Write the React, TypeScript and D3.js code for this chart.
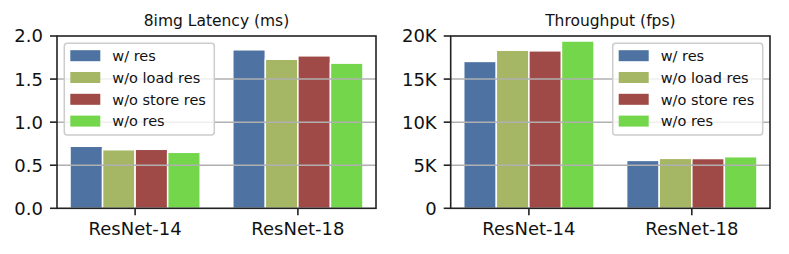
import React from 'react';
import * as d3 from 'd3';

const models = ["ResNet-14", "ResNet-18"];
const variants = ["w/ res", "w/o load res", "w/o store res", "w/o res"];
const colors = ["#4e72a2", "#a5b764", "#a04a48", "#74d64b"];

// one row per variant, one value per model
const latency = [
    [0.72, 1.84],
    [0.68, 1.73],
    [0.685, 1.77],
    [0.65, 1.685],
];
const throughput = [
    [17050, 5560],
    [18350, 5800],
    [18280, 5780],
    [19420, 5990],
];
const latencyTicks = [0, 0.5, 1.0, 1.5, 2.0];
const throughputTicks = [0, 5000, 10000, 15000, 20000];

const W = 789, H = 254;
const top = 36, bottom = 208.3;
const font = "DejaVu Sans, sans-serif";

type PanelProps = {
    x0: number; x1: number; title: string; values: number[][];
    ticks: number[]; fmt: (v: number) => string; legendLeft: number;
};

const Panel = ({ x0, x1, title, values, ticks, fmt, legendLeft }: PanelProps) => {
    const x = d3.scaleLinear().domain([-0.48, 1.48]).range([x0, x1]);
    const y = d3.scaleLinear().domain([0, ticks[ticks.length - 1]]).range([bottom, top]);
    const bw = 0.2;
    const rowH = 21.8;
    return (
        <g fontFamily={font}>
            <text x={(x0 + x1) / 2} y={26} textAnchor="middle" fontSize={15.5} fill="#111">{title}</text>
            {values.map((row, i) => row.map((v, j) => (
                <rect key={`${i}-${j}`}
                    x={x(j - 2 * bw + i * bw)} width={x(bw) - x(0)}
                    y={y(v)} height={y(0) - y(v)}
                    fill={colors[i]} stroke="#fff" strokeWidth={1.5} />
            )))}
            {ticks.slice(1, -1).map(t => (
                <line key={t} x1={x0} x2={x1} y1={y(t)} y2={y(t)} stroke="#b0b0b0" strokeWidth={1.5} />
            ))}
            <rect x={x0} y={top} width={x1 - x0} height={bottom - top} fill="none" stroke="#222" strokeWidth={1.6} />
            {ticks.map(t => (
                <g key={t}>
                    <line x1={x0 - 7} x2={x0} y1={y(t)} y2={y(t)} stroke="#222" strokeWidth={1.6} />
                    <text x={x0 - 14} y={y(t)} dy="0.36em" textAnchor="end" fontSize={18} fill="#111">{fmt(t)}</text>
                </g>
            ))}
            {models.map((m, j) => (
                <g key={m}>
                    <line x1={x(j)} x2={x(j)} y1={bottom} y2={bottom + 7} stroke="#222" strokeWidth={1.6} />
                    <text x={x(j)} y={235} textAnchor="middle" fontSize={18} fill="#111">{m}</text>
                </g>
            ))}
            <g transform={`translate(${legendLeft},43.3)`}>
                <rect width={150} height={91.7} rx={3} fill="#fff" fillOpacity={0.8} stroke="#cccccc" strokeWidth={1.5} />
                {variants.map((v, i) => (
                    <g key={v} transform={`translate(0,${12.4 + i * rowH})`}>
                        <rect x={6} y={-5.5} width={30} height={11} fill={colors[i]} />
                        <text x={48} dy="0.36em" fontSize={14.5} fill="#111">{v}</text>
                    </g>
                ))}
            </g>
        </g>
    );
};

export default function App() {
    return (
        <svg width={W} height={H} style={{ position: "absolute", left: 0, top: 0, background: "#fff" }}>
            <Panel x0={57} x1={376} title="8img Latency (ms)" values={latency}
                ticks={latencyTicks} fmt={d3.format(".1f")} legendLeft={64.3} />
            <Panel x0={450.7} x1={770} title="Throughput (fps)" values={throughput}
                ticks={throughputTicks} fmt={v => v === 0 ? "0" : `${v / 1000}K`} legendLeft={612.7} />
        </svg>
    );
}
